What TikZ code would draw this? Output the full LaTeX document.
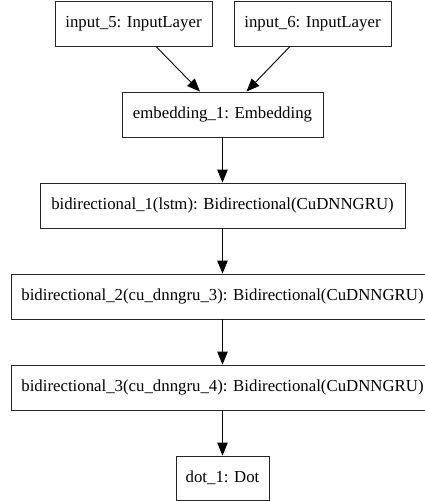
\documentclass[tikz,border=0pt]{standalone}
\usepackage{fontspec}
\setmainfont{Liberation Serif}
\usetikzlibrary{arrows.meta,calc}
\begin{document}
\begin{tikzpicture}[x=1pt,y=-1pt,
  layer/.style={draw=black!85,line width=0.9pt,rectangle,inner sep=0pt,
    minimum height=45pt,font=\fontsize{16.8}{20}\selectfont},
  link/.style={draw=black,line width=0.9pt,-{Triangle[length=13pt,width=10.5pt]}}]
\clip (0,0) rectangle (425,501);
\fill[white] (0,0) rectangle (425,501);
\node[layer,minimum width=157pt] (in5) at (133.5,23.5) {input\_5: InputLayer};
\node[layer,minimum width=157pt] (in6) at (312.5,23.5) {input\_6: InputLayer};
\node[layer,minimum width=201pt] (emb) at (222.5,114.5) {embedding\_1: Embedding};
\node[layer,minimum width=365pt] (b1) at (222.5,205.5) {bidirectional\_1(lstm): Bidirectional(CuDNNGRU)};
\node[layer,minimum width=423pt] (b2) at (222.5,296.5) {bidirectional\_2(cu\_dnngru\_3): Bidirectional(CuDNNGRU)};
\node[layer,minimum width=423pt] (b3) at (222.5,387.5) {bidirectional\_3(cu\_dnngru\_4): Bidirectional(CuDNNGRU)};
\node[layer,minimum width=93pt,minimum height=44pt] (dot) at (222.5,478) {dot\_1: Dot};
\draw[link] ($(in5.south)+(22.5,0)$) -- ($(emb.north)+(-22.5,0)$);
\draw[link] ($(in6.south)+(-22.5,0)$) -- ($(emb.north)+(24,0)$);
\draw[link] (emb) -- (b1);
\draw[link] (b1) -- (b2);
\draw[link] (b2) -- (b3);
\draw[link] (b3) -- (dot);
\end{tikzpicture}
\end{document}
